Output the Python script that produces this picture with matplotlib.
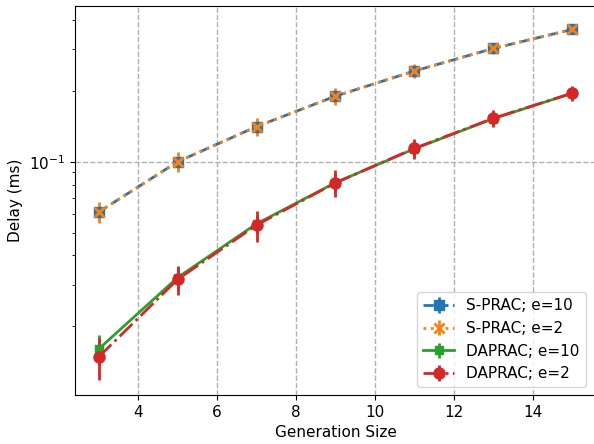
import matplotlib
matplotlib.use("Agg")
import matplotlib.pyplot as plt

gen_size = [3, 5, 7, 9, 11, 13, 15]

sprac_e10 = [0.0611, 0.1000, 0.1410, 0.1900, 0.2430, 0.3030, 0.3650]
sprac_e10_err = [0.0040, 0.0060, 0.0080, 0.0100, 0.0120, 0.0120, 0.0120]
sprac_e2 = [0.0611, 0.1000, 0.1410, 0.1900, 0.2430, 0.3030, 0.3650]
sprac_e2_err = [0.0060, 0.0095, 0.0120, 0.0160, 0.0170, 0.0170, 0.0150]

daprac_e10 = [0.0160, 0.0322, 0.0545, 0.0815, 0.1135, 0.1525, 0.1955]
daprac_e10_err = [0.0024, 0.0035, 0.0050, 0.0070, 0.0080, 0.0090, 0.0100]
daprac_e2 = [0.0148, 0.0316, 0.0538, 0.0813, 0.1140, 0.1530, 0.1957]
daprac_e2_err = [0.0030, 0.0045, 0.0080, 0.0105, 0.0115, 0.0130, 0.0150]

labels = ["S-PRAC; e=10", "S-PRAC; e=2", "DAPRAC; e=10", "DAPRAC; e=2"]

fig = plt.figure(figsize=(5.94, 4.44), dpi=100)
ax = fig.add_axes([75/594, 1-395/444, 521/594, 389/444])

ax.errorbar(gen_size, sprac_e10, yerr=sprac_e10_err, color="#1f77b4", ls="--",
            marker="s", ms=7, lw=2, elinewidth=2, label=labels[0])
ax.errorbar(gen_size, sprac_e2, yerr=sprac_e2_err, color="#ff7f0e", ls=":",
            marker="x", ms=7, mew=2, lw=2, elinewidth=2, label=labels[1])
ax.errorbar(gen_size, daprac_e10, yerr=daprac_e10_err, color="#2ca02c", ls="-",
            marker="s", ms=6, lw=2, elinewidth=2, label=labels[2])
ax.errorbar(gen_size, daprac_e2, yerr=daprac_e2_err, color="#d62728", ls="-.",
            marker="o", ms=8, lw=2, elinewidth=2, label=labels[3])

ax.set_yscale("log")
ax.set_xlim(2.4, 15.6)
ax.set_ylim(0.0102, 0.459)
ax.set_xticks([4, 6, 8, 10, 12, 14])
ax.grid(True, which="major", ls="--", color="#b0b0b0", lw=1)
ax.set_xlabel("Generation Size", fontsize=11)
ax.set_ylabel("Delay (ms)", fontsize=11)
ax.tick_params(labelsize=11)
ax.legend(loc="lower right", fontsize=11, bbox_to_anchor=(0.995, 0.0))

fig.savefig("out.png", dpi=100)
